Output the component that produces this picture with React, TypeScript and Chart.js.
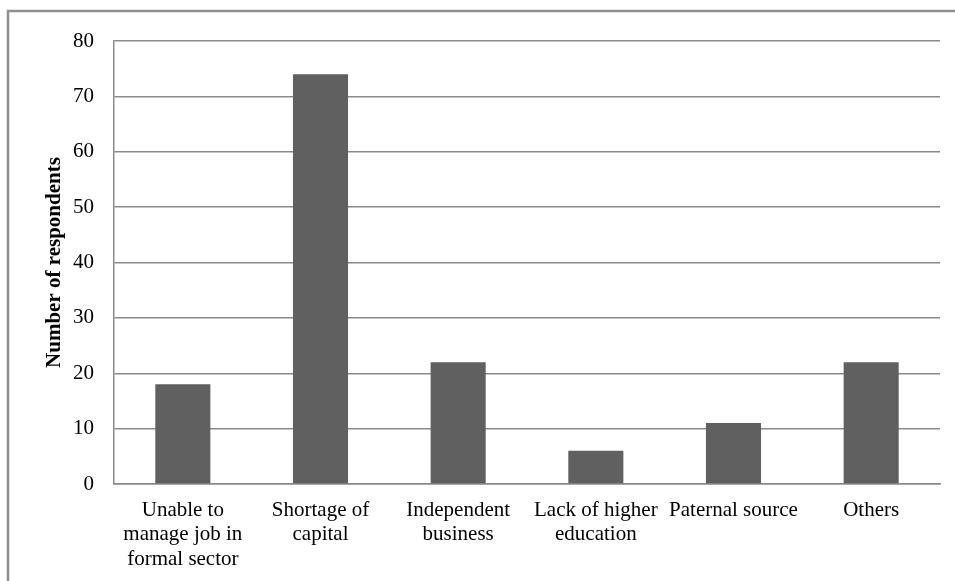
import React, { useEffect, useRef } from "react";
import { Chart, registerables } from "chart.js";

Chart.register(...registerables);

const categories: string[][] = [
  ["Unable to", "manage job in", "formal sector"],
  ["Shortage of", "capital"],
  ["Independent", "business"],
  ["Lack of higher", "education"],
  ["Paternal source"],
  ["Others"],
];
const respondents: number[] = [18, 74, 22, 6, 11, 22];
const yMin = 0;
const yMax = 80;
const yStep = 10;
const yTitle = "Number of respondents";

const FONT = "'Liberation Serif', 'Times New Roman', serif";
const GRID = "#8a8a8a";

// Outer frame: top and left edges of the figure box
const framePlugin = {
  id: "frame",
  beforeDraw(chart: Chart) {
    const { ctx, width, height } = chart;
    ctx.save();
    ctx.strokeStyle = "#8f8f8f";
    ctx.lineWidth = 2.5;
    ctx.beginPath();
    ctx.moveTo(width, 11);
    ctx.lineTo(8, 11);
    ctx.lineTo(8, height);
    ctx.stroke();
    ctx.restore();
  },
};

export default function App() {
  const ref = useRef<HTMLCanvasElement | null>(null);

  useEffect(() => {
    if (!ref.current) return;
    const chart = new Chart(ref.current, {
      type: "bar",
      data: {
        labels: categories,
        datasets: [
          {
            data: respondents,
            backgroundColor: "#606060",
            borderWidth: 0,
            barPercentage: 0.4,
            categoryPercentage: 1,
          },
        ],
      },
      options: {
        animation: false,
        responsive: false,
        devicePixelRatio: 1,
        layout: { padding: { top: 41, right: 15, bottom: 0, left: 0 } },
        plugins: {
          legend: { display: false },
          tooltip: { enabled: false },
        },
        scales: {
          x: {
            grid: { display: false, drawTicks: false },
            border: { display: true, color: GRID, width: 1.5 },
            ticks: {
              color: "#000",
              font: { family: FONT, size: 21, lineHeight: 1.17 },
              padding: 14,
              autoSkip: false,
              maxRotation: 0,
              minRotation: 0,
            },
            afterFit: (scale: any) => {
              scale.height = 97;
            },
          },
          y: {
            min: yMin,
            max: yMax,
            grid: { color: GRID, lineWidth: 1.5, drawTicks: false },
            border: { display: true, color: GRID, width: 1.5 },
            ticks: {
              stepSize: yStep,
              color: "#000",
              font: { family: FONT, size: 21 },
              padding: 20,
            },
            title: {
              display: true,
              text: yTitle,
              color: "#000",
              font: { family: FONT, size: 21, weight: "bold" },
              padding: { top: 42, bottom: 0 },
            },
            afterFit: (scale: any) => {
              scale.width = 114;
            },
          },
        },
      },
      plugins: [framePlugin],
    });
    return () => chart.destroy();
  }, []);

  return (
    <div style={{ position: "fixed", left: 0, top: 0, width: 955, height: 581, background: "#fff" }}>
      <canvas ref={ref} width={955} height={581} style={{ display: "block" }} />
    </div>
  );
}
